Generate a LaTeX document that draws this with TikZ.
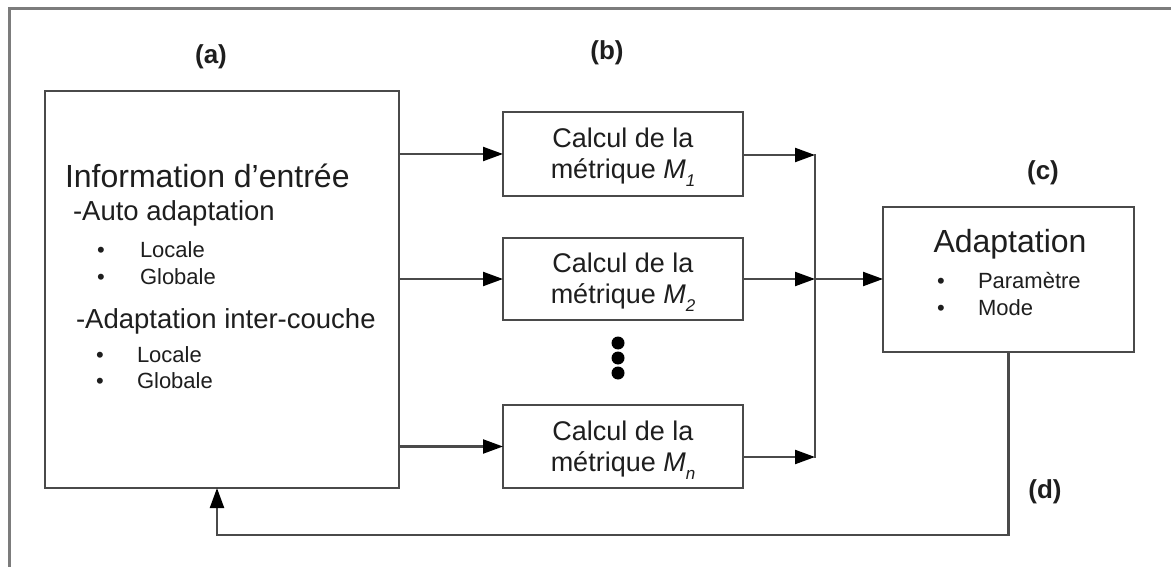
\documentclass[tikz,border=0pt]{standalone}
\usepackage{fontspec}
\setmainfont{Liberation Sans}
\usetikzlibrary{arrows.meta,calc}
\definecolor{linegray}{HTML}{4A4A4A}
\definecolor{framegray}{HTML}{7C7C7C}
\definecolor{txt}{HTML}{1E1E1E}
\newcommand{\fsz}[1]{\fontsize{#1}{#1}\selectfont}
\newcommand{\Msub}[1]{\textit{M}\raisebox{-0.28em}{\fsz{17}\textit{#1}}}
\begin{document}
\begin{tikzpicture}[x=1pt,y=-1pt,
  every node/.style={text=txt, inner sep=0pt, outer sep=0pt},
  blk/.style={draw=linegray, line width=2.2pt, minimum width=#1},
  arr/.style={draw=linegray, line width=2.2pt, -{Triangle[length=20pt,width=14pt,fill=black,color=black]}},
  wire/.style={draw=linegray, line width=2.2pt},
  lbl/.style={font=\fsz{26}\bfseries},
  calc/.style={align=center, font=\fsz{27}, text depth=0pt},
  bul/.style={anchor=base, font=\fsz{22}},
  itm/.style={anchor=base west, font=\fsz{22}},
]
\useasboundingbox (0,0) rectangle (1171,567);
\fill[white] (0,0) rectangle (1171,567);
% outer frame (top and left sides)
\draw[framegray, line width=3pt] (9,567) -- (9,8.5) -- (1171,8.5);

% labels
\node[lbl] (la) at (211,57) {(a)};
\node[lbl] (lb) at (607,53) {(b)};
\node[lbl] (lc) at (1043,173) {(c)};
\node[lbl] (ld) at (1045,492) {(d)};

% box A
\node[blk=354pt, minimum height=397pt] (boxA) at (222,289.5) {};
\node[anchor=base west, font=\fsz{32}] (tA) at (65,188) {Information d’entrée};
\node[anchor=base west, font=\fsz{27.5}] (sA1) at (73,221) {-Auto adaptation};
\node[bul] (b11) at (101,258) {•};
\node[itm] (i11) at (140,258) {Locale};
\node[bul] (b12) at (101,284) {•};
\node[itm] (i12) at (140,284) {Globale};
\node[anchor=base west, font=\fsz{27.5}] (sA2) at (76,328) {-Adaptation inter-couche};
\node[bul] (b21) at (100,362) {•};
\node[itm] (i21) at (137,362) {Locale};
\node[bul] (b22) at (100,388) {•};
\node[itm] (i22) at (137,388) {Globale};

% calc boxes
\node[blk=240pt, minimum height=84pt] (c1) at (623,154) {};
\node[calc] (t1a) at (623,138) {Calcul de la};
\node[calc] (t1b) at (623,169) {métrique \Msub{1}};
\node[blk=240pt, minimum height=82pt] (c2) at (623,279) {};
\node[calc] (t2a) at (623,263) {Calcul de la};
\node[calc] (t2b) at (623,294) {métrique \Msub{2}};
\node[blk=240pt, minimum height=83pt] (cn) at (623,446.5) {};
\node[calc] (tna) at (623,430.5) {Calcul de la};
\node[calc] (tnb) at (623,461.5) {métrique \Msub{n}};

% dots
\fill[black] (618,343) circle (6.5pt) (618,358) circle (6.5pt) (618,373) circle (6.5pt);

% adaptation box
\node[blk=251pt, minimum height=145pt] (ad) at (1008.5,279.5) {};
\node[anchor=base, font=\fsz{32}] (tad) at (1010,252) {Adaptation};
\node[bul] (bp) at (941,288) {•};
\node[itm] (ip) at (978,288) {Paramètre};
\node[bul] (bm) at (941,315) {•};
\node[itm] (im) at (978,315) {Mode};

% connectors A -> calc
\draw[arr] (boxA.east |- c1.west) -- (c1.west);
\draw[arr] (boxA.east |- c2.west) -- (c2.west);
\draw[arr] (boxA.east |- cn.west) -- (cn.west);

% bus
\coordinate (bus1) at (815,155);
\coordinate (bus2) at (815,279);
\coordinate (busn) at (815,457);
\draw[arr] (c1.east |- bus1) -- (bus1);
\draw[arr] (c2.east |- bus2) -- (bus2);
\draw[arr] (cn.east |- busn) -- (busn);
\draw[wire, line cap=rect] (bus1) -- (busn);
\draw[arr] (bus2) -- (ad.west |- bus2);

% feedback
\coordinate (fb) at (217,535);
\draw[arr] (ad.south) |- (fb) -- (boxA.south -| fb);
\end{tikzpicture}
\end{document}
